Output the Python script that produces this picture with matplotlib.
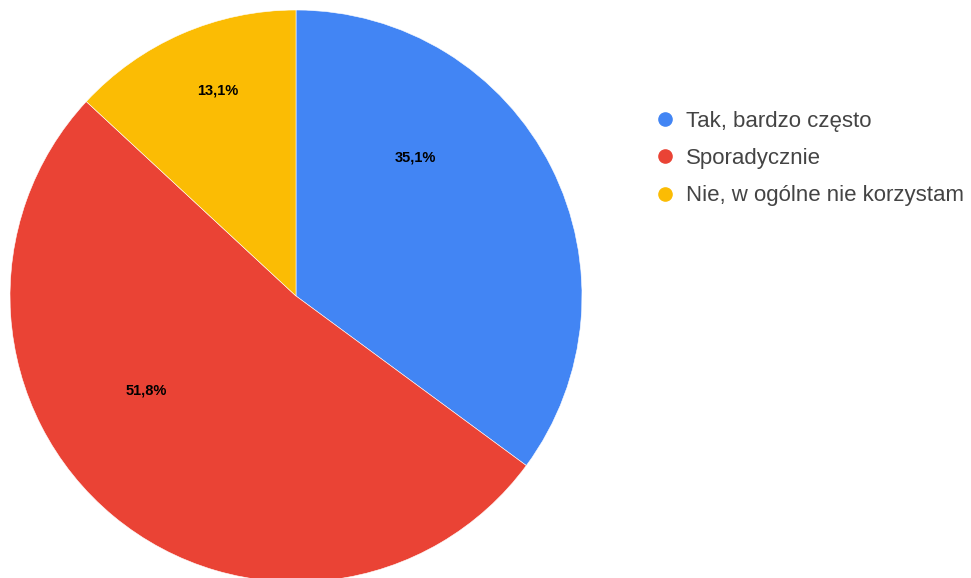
import matplotlib
matplotlib.use("Agg")
import matplotlib.pyplot as plt
from matplotlib.lines import Line2D

categories = ["Tak, bardzo często", "Sporadycznie", "Nie, w ogólne nie korzystam"]
values = [35.1, 51.8, 13.1]
pct_labels = ["35,1%", "51,8%", "13,1%"]
colors = ["#4285F4", "#EA4335", "#FBBC04"]
# label anchor positions (data units, radius = 1) as placed by the original chart
label_pos = [(0.416, 0.483), (-0.524, -0.329), (-0.273, 0.720)]

plt.rcParams['font.family'] = ['Liberation Sans', 'DejaVu Sans']

W, H = 971, 578
fig = plt.figure(figsize=(W / 100, H / 100), dpi=100)
cx, cy, r = 296, 296, 286
ax = fig.add_axes([(cx - r) / W, (H - cy - r) / H, 2 * r / W, 2 * r / H])
wedges, _ = ax.pie(values, colors=colors, startangle=90, counterclock=False,
                   radius=1, wedgeprops=dict(edgecolor='white', linewidth=0.4))
ax.set_xlim(-1, 1)
ax.set_ylim(-1, 1)
ax.set_aspect('auto')
ax.axis('off')

for (x, y), t in zip(label_pos, pct_labels):
    ax.text(x, y, t, ha='center', va='center', fontsize=10.5, fontweight='bold', color='black')

handles = [Line2D([0], [0], marker='o', linestyle='none', markersize=9.5,
                  markerfacecolor=c, markeredgecolor=c) for c in colors]
fig.legend(handles, categories, loc='upper left', bbox_to_anchor=(656 / W, 1 - 111 / H),
           frameon=False, fontsize=16, labelspacing=0.73, handlelength=0.8,
           handletextpad=0.55, borderpad=0, borderaxespad=0, labelcolor='#444444')

fig.savefig("out.png", dpi=100)
